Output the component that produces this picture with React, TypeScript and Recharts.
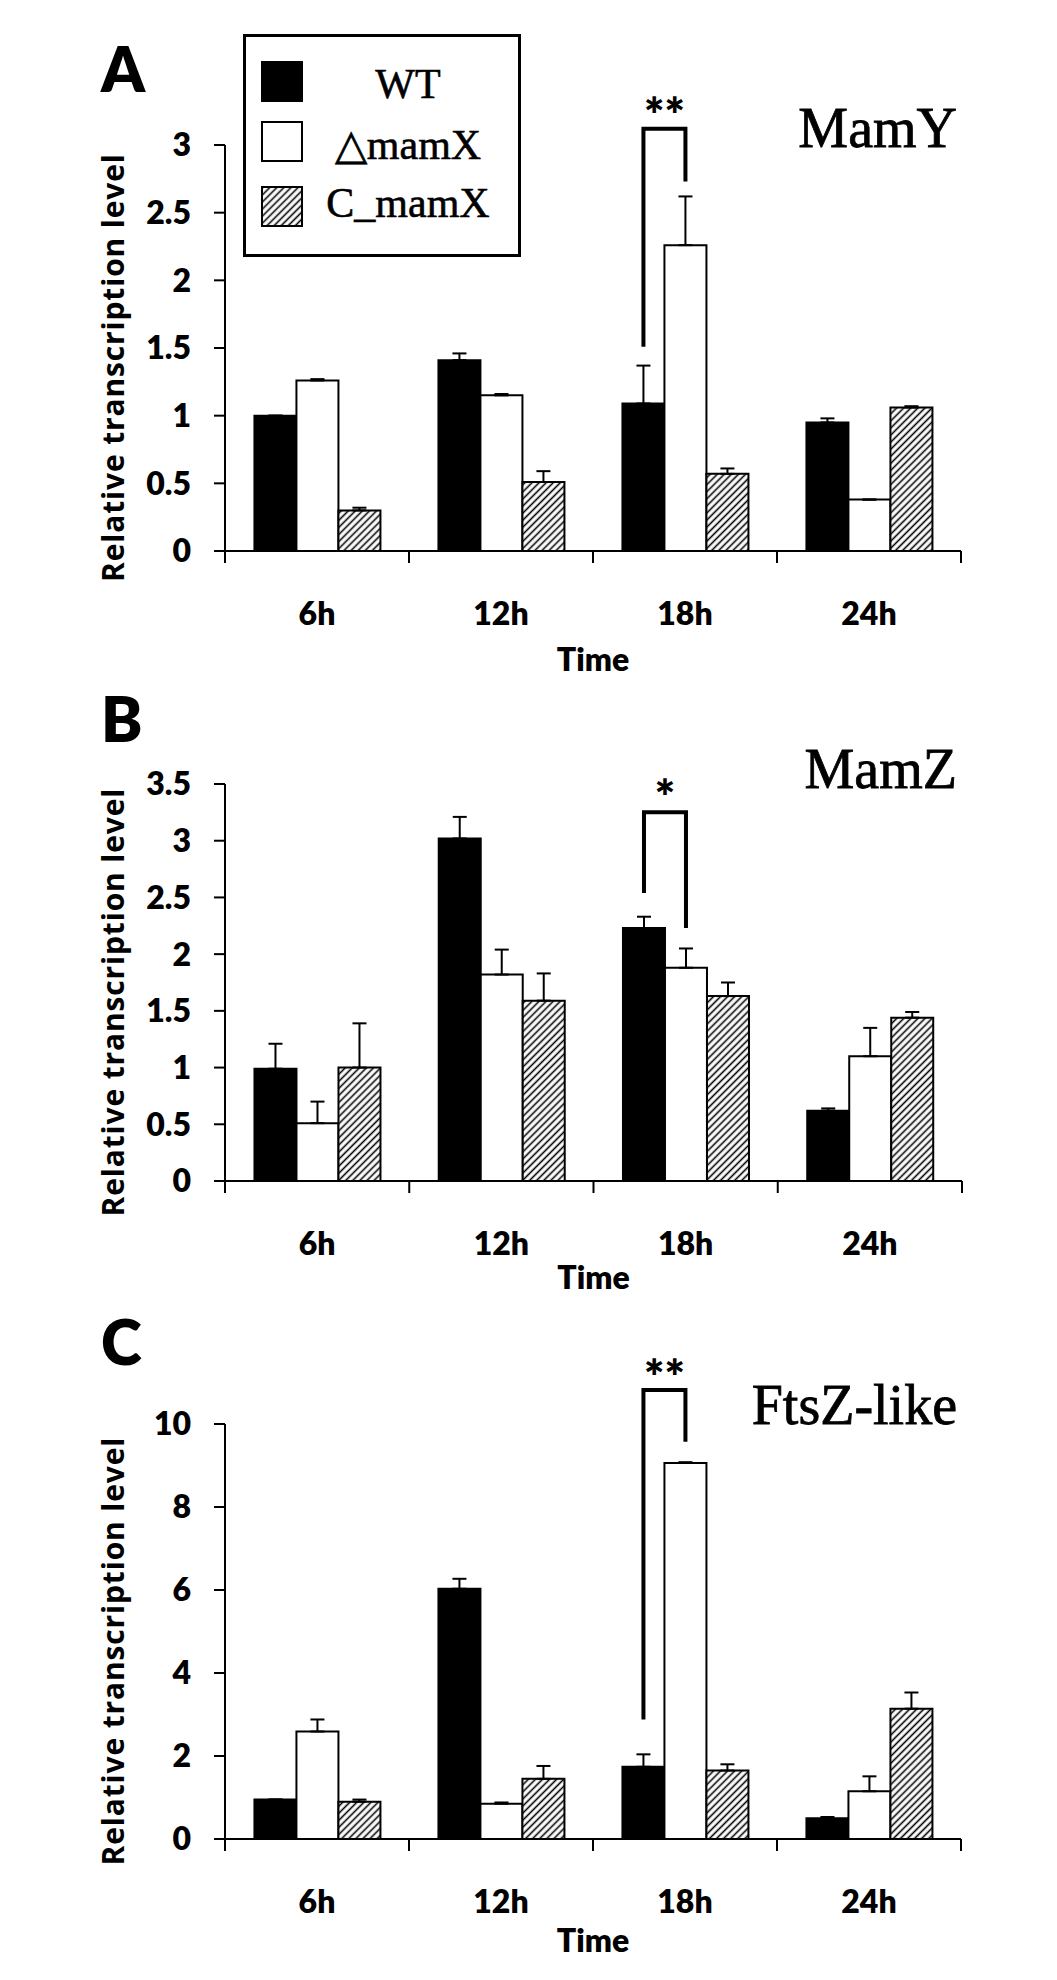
import React from "react";
import { BarChart, Bar, XAxis, YAxis, ErrorBar, LabelList, Legend } from "recharts";

const times = ["6h", "12h", "18h", "24h"];
const seriesNames = ["WT", "△mamX", "C_mamX"];

// MamY
const mamYWT = [1.0, 1.41, 1.09, 0.95];
const mamYWTErr = [0, 0.05, 0.28, 0.03];
const mamYDel = [1.26, 1.15, 2.26, 0.38];
const mamYDelErr = [0.01, 0.01, 0.36, 0];
const mamYComp = [0.3, 0.51, 0.57, 1.06];
const mamYCompErr = [0.02, 0.08, 0.04, 0.01];
const mamYTicks = [0, 0.5, 1, 1.5, 2, 2.5, 3];
const mamYSig = { at: "18h", left: 1.51, right: 2.73, top: 3.12, mark: "**", markAt: 3.29 };

// MamZ
const mamZWT = [0.99, 3.02, 2.23, 0.62];
const mamZWTErr = [0.22, 0.19, 0.1, 0.02];
const mamZDel = [0.51, 1.82, 1.88, 1.1];
const mamZDelErr = [0.19, 0.22, 0.17, 0.25];
const mamZComp = [1.0, 1.59, 1.63, 1.44];
const mamZCompErr = [0.39, 0.24, 0.12, 0.05];
const mamZTicks = [0, 0.5, 1, 1.5, 2, 2.5, 3, 3.5];
const mamZSig = { at: "18h", left: 2.54, right: 2.23, top: 3.25, mark: "*", markAt: 3.47 };

// FtsZ-like
const ftsZWT = [0.95, 6.03, 1.74, 0.5];
const ftsZWTErr = [0, 0.24, 0.3, 0.03];
const ftsZDel = [2.59, 0.85, 9.06, 1.15];
const ftsZDelErr = [0.29, 0.03, 0.02, 0.36];
const ftsZComp = [0.9, 1.45, 1.65, 3.14];
const ftsZCompErr = [0.05, 0.31, 0.15, 0.39];
const ftsZTicks = [0, 2, 4, 6, 8, 10];
const ftsZSig = { at: "18h", left: 2.88, right: 9.57, top: 10.82, mark: "**", markAt: 11.37 };

const sans = "Lato, 'Open Sans', sans-serif";
const serif = "'Liberation Serif', 'Times New Roman', serif";
const LABEL_GAP = 51;

function makeRows(wt, wtErr, del, delErr, comp, compErr) {
  return times.map((t, i) => ({
    time: t,
    wt: wt[i],
    wtErr: [0, wtErr[i]],
    del: del[i],
    delErr: [0, delErr[i]],
    comp: comp[i],
    compErr: [0, compErr[i]],
  }));
}

const panels = [
  {
    key: "A",
    title: "MamY",
    data: makeRows(mamYWT, mamYWTErr, mamYDel, mamYDelErr, mamYComp, mamYCompErr),
    ticks: mamYTicks,
    sig: mamYSig,
    top: 0,
    height: 700,
    margin: { top: 145, right: 96, bottom: 89, left: 90 },
    letterY: 92,
    titleY: 147,
    timeBase: 120,
    legend: true,
  },
  {
    key: "B",
    title: "MamZ",
    data: makeRows(mamZWT, mamZWTErr, mamZDel, mamZDelErr, mamZComp, mamZCompErr),
    ticks: mamZTicks,
    sig: mamZSig,
    top: 660,
    height: 640,
    margin: { top: 124, right: 95, bottom: 59, left: 90 },
    letterY: 82,
    titleY: 128,
    timeBase: 108,
    legend: false,
  },
  {
    key: "C",
    title: "FtsZ-like",
    data: makeRows(ftsZWT, ftsZWTErr, ftsZDel, ftsZDelErr, ftsZComp, ftsZCompErr),
    ticks: ftsZTicks,
    sig: ftsZSig,
    top: 1300,
    height: 680,
    margin: { top: 124, right: 96, bottom: 81, left: 90 },
    letterY: 65,
    titleY: 124,
    timeBase: 113,
    legend: false,
  },
];

function Hatch({ id }) {
  return (
    <pattern id={id} patternUnits="userSpaceOnUse" width={5} height={5} patternTransform="rotate(45)">
      <rect width={5} height={5} fill="#fff" />
      <line x1={2.5} y1={0} x2={2.5} y2={5} stroke="#000" strokeWidth={1.6} />
    </pattern>
  );
}

// category label plus tick marks on the group boundaries
const CatTick = (props) => {
  const { x, y, payload, index, width, visibleTicksCount } = props;
  const axisY = y - LABEL_GAP;
  const n = Number(visibleTicksCount) || times.length;
  const half = Number(width) > 0 ? Number(width) / n / 2 : 0;
  return (
    <g>
      {half > 0 && <line x1={x - half} y1={axisY} x2={x - half} y2={axisY + 12} stroke="#000" strokeWidth={2} />}
      {half > 0 && index === n - 1 && (
        <line x1={x + half} y1={axisY} x2={x + half} y2={axisY + 12} stroke="#000" strokeWidth={2} />
      )}
      <text x={x} y={y} dy="0.72em" textAnchor="middle" fontFamily={sans} fontWeight={800} fontSize={32} fill="#000">
        {payload.value}
      </text>
    </g>
  );
};

// significance bracket, drawn from the WT bar of the marked group
const bracketLabel = (sig) => (props) => {
  if (times[props.index] !== sig.at) return null;
  const vb = props.viewBox || props;
  const x = Number(vb.x);
  const y = Number(vb.y);
  const w = Number(vb.width);
  const h = Number(vb.height);
  const v = Number(props.value);
  const base = y + h;
  const py = (val) => base - (val * h) / v;
  const x1 = x + w / 2;
  const x2 = x + w * 1.5;
  const fs = 48;
  return (
    <g>
      <path
        d={`M${x1},${py(sig.left)} L${x1},${py(sig.top)} L${x2},${py(sig.top)} L${x2},${py(sig.right)}`}
        fill="none"
        stroke="#000"
        strokeWidth={4}
      />
      <text
        x={(x1 + x2) / 2}
        y={py(sig.markAt) + fs * 0.55}
        textAnchor="middle"
        fontFamily={sans}
        fontWeight={800}
        fontSize={fs}
        fill="#000"
      >
        {sig.mark}
      </text>
    </g>
  );
};

const yLabel = (props) => {
  const vb = props.viewBox;
  const cx = vb.x + 22;
  const cy = vb.y + vb.height / 2 + 20;
  return (
    <text
      x={cx}
      y={cy}
      transform={`rotate(-90 ${cx} ${cy})`}
      textAnchor="middle"
      dominantBaseline="central"
      fontFamily="'Open Sans', sans-serif"
      fontWeight={700}
      fontSize={30}
      textLength={428}
      lengthAdjust="spacing"
      fill="#000"
    >
      Relative transcription level
    </text>
  );
};

const timeLabel = (offset) => (props) => {
  const vb = props.viewBox;
  return (
    <text x={vb.x + vb.width / 2} y={vb.y + offset} textAnchor="middle" fontFamily={sans} fontWeight={800} fontSize={32} fill="#000">
      Time
    </text>
  );
};

const swatchFill = ["#000", "#fff", "url(#hatchLegend)"];
const swatchTop = [28, 88, 153];
const legendBase = [64, 125, 183];

// legend drawn in the series order of the figure
const renderLegend = () => (
  <svg width={278} height={223} style={{ display: "block" }}>
    <defs>
      <Hatch id="hatchLegend" />
    </defs>
    <rect x={1.5} y={1.5} width={275} height={220} fill="#fff" stroke="#000" strokeWidth={3} />
    {seriesNames.map((name, i) => (
      <g key={name}>
        <rect x={19} y={swatchTop[i]} width={40} height={39} fill={swatchFill[i]} stroke="#000" strokeWidth={2} />
        <text x={165} y={legendBase[i]} textAnchor="middle" fontFamily={serif} fontSize={42} fill="#000" stroke="#000" strokeWidth={0.6}>
          {name}
        </text>
      </g>
    ))}
  </svg>
);

function Panel({ p }) {
  const hatchId = `hatch${p.key}`;
  const ymax = p.ticks[p.ticks.length - 1];
  return (
    <div style={{ position: "absolute", left: 0, top: p.top, width: 1057, height: p.height }}>
      <BarChart width={1057} height={p.height} data={p.data} margin={p.margin} barCategoryGap="16%" barGap={0}>
        <defs>
          <Hatch id={hatchId} />
        </defs>
        <XAxis
          dataKey="time"
          height={60}
          interval={0}
          axisLine={{ stroke: "#000", strokeWidth: 2 }}
          tickLine={false}
          tickSize={0}
          tickMargin={LABEL_GAP}
          tick={<CatTick />}
          label={{ content: timeLabel(p.timeBase) }}
        />
        <YAxis
          domain={[0, ymax]}
          ticks={p.ticks}
          allowDataOverflow
          interval={0}
          width={135}
          tickSize={11}
          tickMargin={23}
          axisLine={{ stroke: "#000", strokeWidth: 2 }}
          tickLine={{ stroke: "#000", strokeWidth: 2 }}
          tick={{ fill: "#000", fontSize: 32, fontWeight: 800, fontFamily: sans }}
          label={{ content: yLabel }}
        />
        <Bar dataKey="wt" name={seriesNames[0]} fill="#000" stroke="#000" strokeWidth={2} isAnimationActive={false}>
          <ErrorBar dataKey="wtErr" width={7} stroke="#000" strokeWidth={2} isAnimationActive={false} />
          <LabelList dataKey="wt" content={bracketLabel(p.sig)} />
        </Bar>
        <Bar dataKey="del" name={seriesNames[1]} fill="#fff" stroke="#000" strokeWidth={2} isAnimationActive={false}>
          <ErrorBar dataKey="delErr" width={7} stroke="#000" strokeWidth={2} isAnimationActive={false} />
        </Bar>
        <Bar dataKey="comp" name={seriesNames[2]} fill={`url(#${hatchId})`} stroke="#000" strokeWidth={2} isAnimationActive={false}>
          <ErrorBar dataKey="compErr" width={7} stroke="#000" strokeWidth={2} isAnimationActive={false} />
        </Bar>
        {p.legend && (
          <Legend
            layout="vertical"
            verticalAlign="middle"
            align="center"
            width={278}
            height={223}
            wrapperStyle={{ left: 243, top: 34, width: 278, height: 223 }}
            content={renderLegend}
          />
        )}
      </BarChart>
      <svg width={1057} height={p.height} style={{ position: "absolute", left: 0, top: 0, pointerEvents: "none" }}>
        <text x={101} y={p.letterY} fontFamily={sans} fontWeight={800} fontSize={62} fill="#000">
          {p.key}
        </text>
        <text x={957} y={p.titleY} textAnchor="end" fontFamily={serif} fontSize={56} fill="#000" stroke="#000" strokeWidth={0.8}>
          {p.title}
        </text>
      </svg>
    </div>
  );
}

export default function App() {
  return (
    <div style={{ position: "absolute", left: 0, top: 0, width: 1057, height: 1980, background: "#fff", overflow: "hidden" }}>
      {panels.map((p) => (
        <Panel key={p.key} p={p} />
      ))}
    </div>
  );
}
